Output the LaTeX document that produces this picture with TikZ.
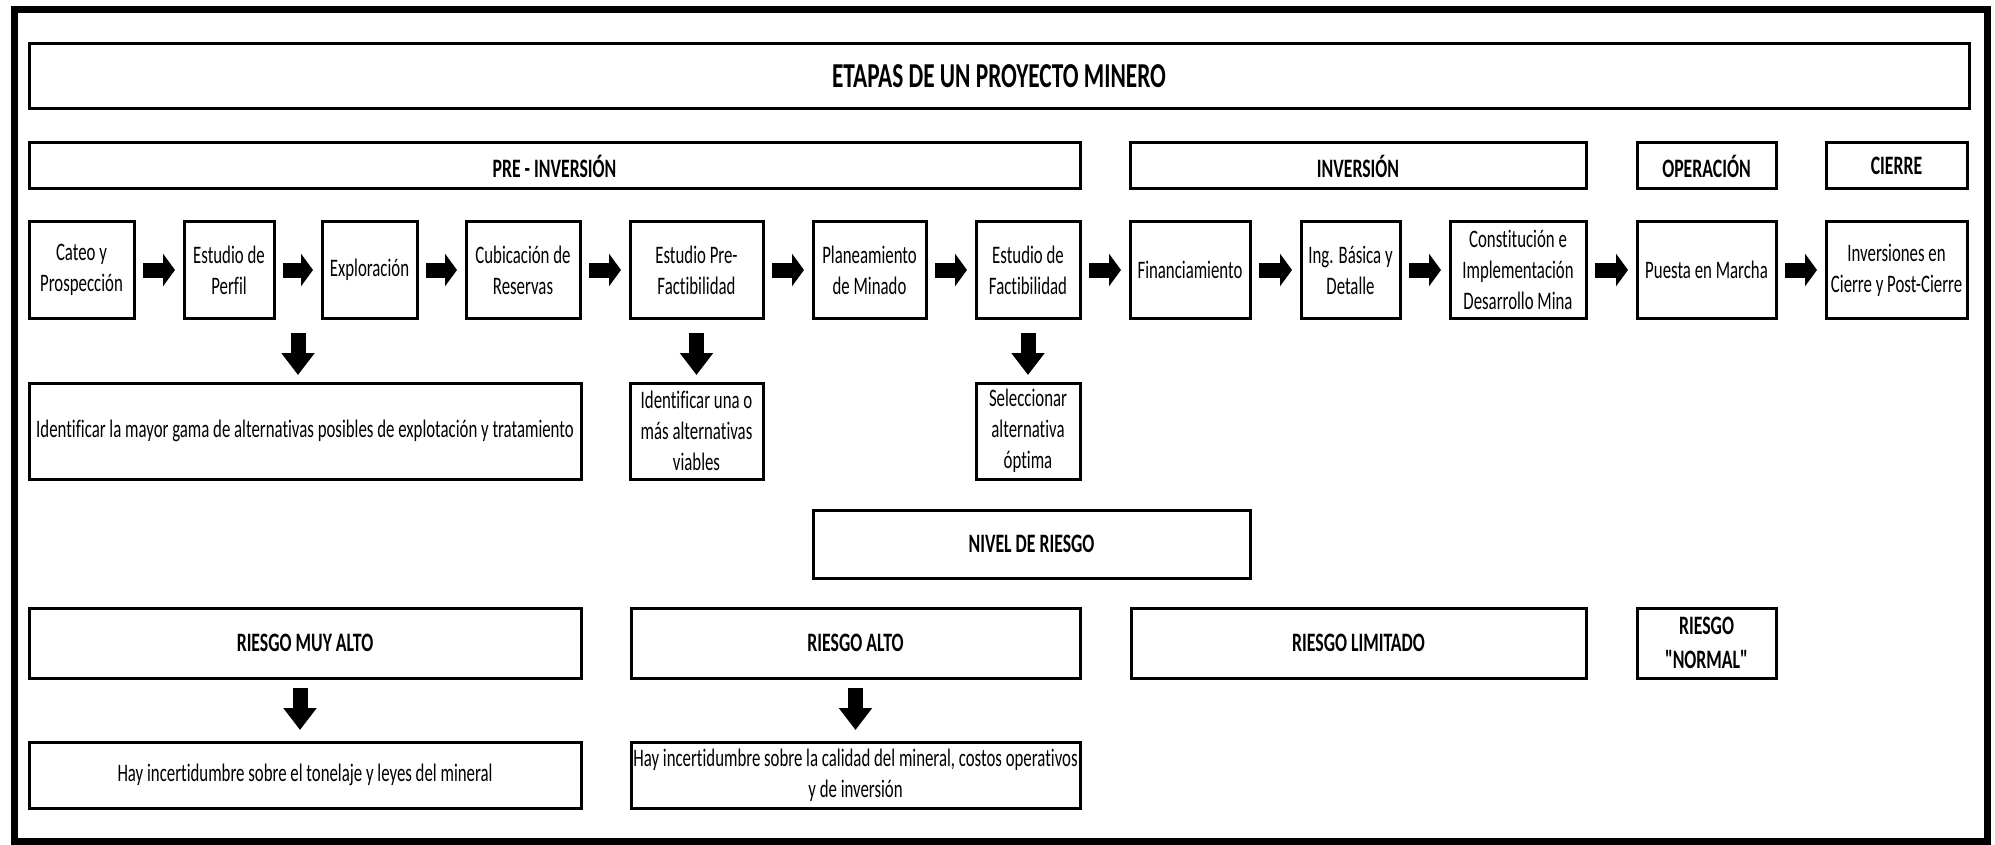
\documentclass[tikz,border=0pt]{standalone}
\usepackage{fontspec}
% narrow, tall Calibri-like lettering, plain straight quotes
\setmainfont[FakeStretch=0.667,Ligatures={NoCommon,TeXOff}]{Carlito}
\usetikzlibrary{arrows.meta,calc}

% box by its corners: [style] name, x1, y1, x2, y2, text
\newcommand\bx[7][]{%
  \node[box,#1,minimum width={(#5-#3)*0.5pt},minimum height={(#6-#4)*0.5pt}]
    (#2) at ({(#3+#5)/2},{(#4+#6)/2}) {#7};}

\begin{document}
\begin{tikzpicture}[x=0.5pt,y=-0.5pt,
  box/.style={draw=black,line width=1.5pt,fill=white,inner sep=0pt,outer sep=0pt,
    align=center,font=\fontsize{12.6}{15.5}\selectfont},
  headbox/.style={font=\bfseries\fontsize{13.3}{17}\selectfont},
  titlebox/.style={font=\bfseries\fontsize{17.5}{20}\selectfont},
  rarrow/.style={line width=7.5pt,-{Triangle[length=6pt,width=16pt]},
    shorten <=4.5pt,shorten >=4.5pt},
  darrow/.style={line width=7.5pt,-{Triangle[length=11pt,width=16pt]}}
]
\useasboundingbox (0,0) rectangle (1995,845);
\fill[white] (0,0) rectangle (1995,845);
% outer frame
\draw[line width=3.5pt] (14.5,9.5) rectangle (1987.5,841.5);

% title and phases
\bx[titlebox]{title}{29}{44}{1969}{109}{ETAPAS DE UN PROYECTO MINERO}
\bx[headbox]{pre}{29}{143}{1080}{189}{PRE - INVERSIÓN}
\bx[headbox]{inv}{1130}{143}{1586}{189}{INVERSIÓN}
\bx[headbox]{ope}{1637}{143}{1776}{189}{OPERACIÓN}
\bx[headbox]{cie}{1826}{143}{1967}{189}{CIERRE}

% stages
\bx{s1}{29}{222}{134}{318}{Cateo y\\Prospección}
\bx{s2}{184}{222}{274}{318}{Estudio de\\Perfil}
\bx{s3}{322}{222}{417}{318}{Exploración}
\bx{s4}{466}{222}{580}{318}{Cubicación de\\Reservas}
\bx{s5}{630}{222}{763}{318}{Estudio Pre-\\Factibilidad}
\bx{s6}{813}{222}{926}{318}{Planeamiento\\de Minado}
\bx{s7}{976}{222}{1080}{318}{Estudio de\\Factibilidad}
\bx{s8}{1130}{222}{1250}{318}{Financiamiento}
\bx{s9}{1301}{222}{1400}{318}{Ing. Básica y\\Detalle}
\bx{s10}{1450}{222}{1586}{318}{Constitución e\\Implementación\\Desarrollo Mina}
\bx{s11}{1637}{222}{1776}{318}{Puesta en Marcha}
\bx{s12}{1826}{222}{1967}{318}{Inversiones en\\Cierre y Post-Cierre}

\foreach \a/\b in {s1/s2,s2/s3,s3/s4,s4/s5,s5/s6,s6/s7,s7/s8,s8/s9,s9/s10,s10/s11,s11/s12}
  \draw[rarrow] (\a.east) -- (\b.west);

% goals of the studies
\bx{l1}{29}{383}{581}{479}{Identificar la mayor gama de alternativas posibles de explotación y tratamiento}
\bx{l2}{630}{383}{763}{479}{Identificar una o\\más alternativas\\viables}
\bx{l3}{976}{383}{1080}{479}{Seleccionar\\alternativa\\óptima}

\coordinate (g23) at ($(s2.south east)!.5!(s3.south west)$);
\draw[darrow,shorten <=7.5pt,shorten >=4pt] (g23) -- (g23 |- l1.north);
\draw[darrow,shorten <=7.5pt,shorten >=4pt] (s5) -- (l2);
\draw[darrow,shorten <=7.5pt,shorten >=4pt] (s7) -- (l3);

% risk levels
\bx[headbox]{nivel}{813}{510}{1250}{578}{NIVEL DE RIESGO}
\bx[headbox]{r1}{29}{608}{581}{678}{RIESGO MUY ALTO}
\bx[headbox]{r2}{631}{608}{1080}{678}{RIESGO ALTO}
\bx[headbox]{r3}{1131}{608}{1586}{678}{RIESGO LIMITADO}
\bx[headbox]{r4}{1637}{608}{1776}{678}{RIESGO\\"NORMAL"}

\bx{b1}{29}{742}{581}{808}{Hay incertidumbre sobre el tonelaje y leyes del mineral}
\bx{b2}{631}{742}{1080}{808}{Hay incertidumbre sobre la calidad del mineral, costos operativos\\y de inversión}

\coordinate (m1) at ($(r1.south)+(-5,0)$);
\draw[darrow,shorten <=5pt,shorten >=6pt] (m1) -- (m1 |- b1.north);
\draw[darrow,shorten <=5pt,shorten >=6pt] (r2) -- (b2);
\end{tikzpicture}
\end{document}
